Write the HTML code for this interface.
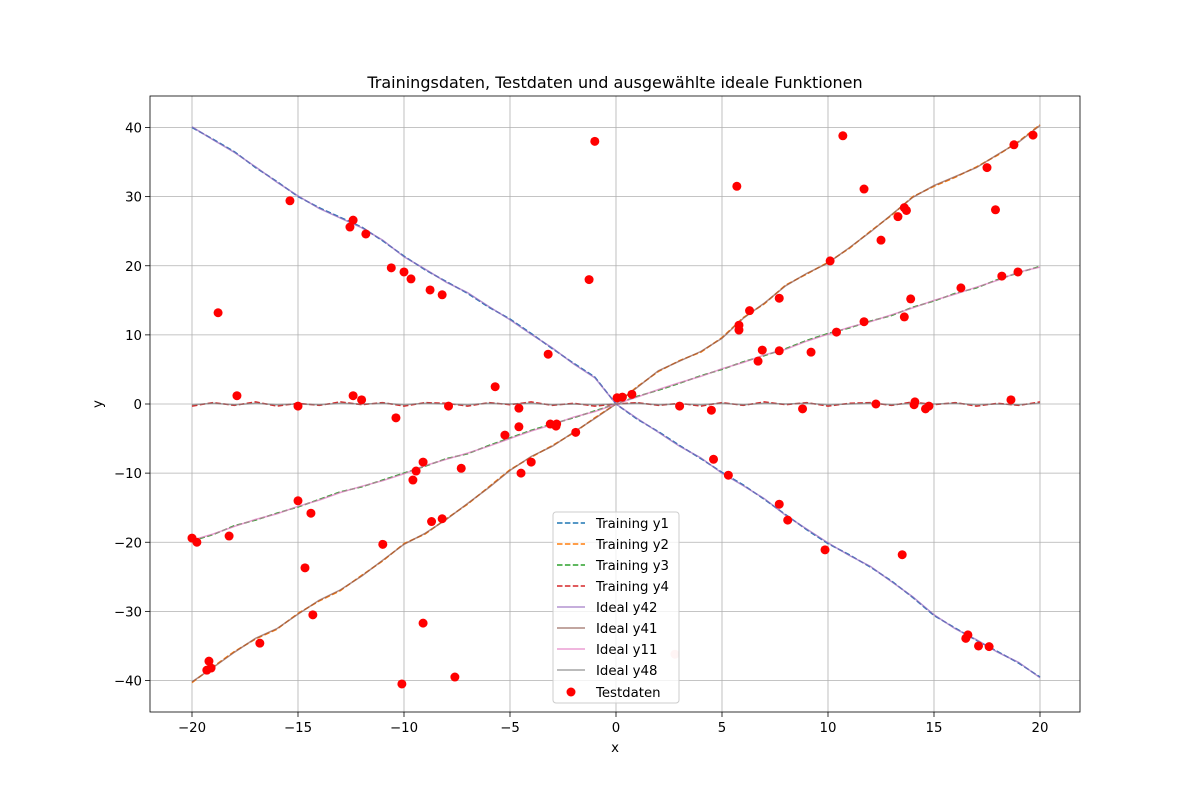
<!DOCTYPE html>
<html><head><meta charset="utf-8"><style>
body{margin:0;background:#fff;}
svg{display:block;font-family:"DejaVu Sans","Liberation Sans",sans-serif;}
</style></head><body>
<svg id="chart" width="1200" height="800" viewBox="0 0 1200 800" xmlns="http://www.w3.org/2000/svg">
<rect x="0" y="0" width="1200" height="800" fill="#fff"/>
<text x="615" y="88" text-anchor="middle" font-size="16">Trainingsdaten, Testdaten und ausgewählte ideale Funktionen</text>
<g id="grid"></g><g id="series"></g><g id="points"></g>
<rect x="150" y="96" width="930" height="616" fill="none" stroke="#000" stroke-width="0.8"/>
<g id="ticks"></g>
<text x="615" y="752" text-anchor="middle" font-size="13.3">x</text>
<text x="102" y="404" text-anchor="middle" font-size="13.3" transform="rotate(-90 102 404)">y</text>
<g id="legend"></g>
</svg>
<script>
const xs=[-20,-19,-18,-17,-16,-15,-14,-13,-12,-11,-10,-9,-8,-7,-6,-5,-4,-3,-2,-1,0,1,2,3,4,5,6,7,8,9,10,11,12,13,14,15,16,17,18,19,20];
const trainY1=[40,38.3,36.5,34.2,32.2,30,28.4,27,25.6,23.6,21.4,19.4,17.7,16,14,12.3,10.2,8,5.9,3.9,0,-2.2,-4,-6,-7.9,-9.9,-11.7,-13.8,-16,-18.2,-20.2,-21.8,-23.6,-25.6,-28,-30.6,-32.4,-34.2,-35.8,-37.5,-39.5];
const trainY2=[-40.3,-38,-35.8,-34,-32.6,-30.3,-28.5,-27,-24.8,-22.7,-20.2,-18.8,-16.6,-14.5,-12,-9.5,-7.7,-6,-4.2,-2,0,2.5,4.7,6.3,7.5,9.6,12.5,14.5,17.2,18.8,20.5,22.5,25,27.3,30,31.5,32.8,34.3,36,38,40.4];
const trainY3=[-19.8,-18.9,-17.6,-16.8,-15.8,-14.9,-13.8,-12.7,-12,-11,-10,-9,-7.9,-7.2,-6,-4.9,-3.8,-2.9,-2,-1,0,1.1,2,3,4.1,5,6.1,7,8,9.2,10.2,11,12,12.8,14,14.9,16,16.8,18,19,19.9];
const trainY4=[-0.3,0.2,-0.2,0.3,-0.3,0.1,-0.2,0.3,-0.1,0.2,-0.3,0.2,0.1,-0.3,0.2,-0.1,0.3,-0.2,0.1,-0.3,0,0.2,-0.2,0.1,-0.3,0.2,-0.2,0.3,-0.1,0.2,-0.3,0.1,0.2,-0.2,0.3,-0.1,0.2,-0.3,0.1,-0.2,0.3];
const idealY42=[40.1,38.2,36.4,34.3,32.1,30.1,28.3,26.9,25.5,23.7,21.3,19.5,17.6,16.1,14.1,12.2,10.1,8.1,5.8,3.8,0,-2.1,-4.1,-6.1,-7.8,-10,-11.8,-13.7,-16.1,-18.1,-20.1,-21.9,-23.5,-25.7,-27.9,-30.5,-32.5,-34.1,-35.9,-37.4,-39.6];
const idealY41=[-40.2,-38.1,-35.9,-33.9,-32.5,-30.4,-28.4,-26.9,-24.9,-22.6,-20.3,-18.7,-16.7,-14.4,-12.1,-9.6,-7.6,-6.1,-4.1,-2.1,0,2.4,4.8,6.2,7.6,9.5,12.4,14.6,17.1,18.9,20.4,22.6,24.9,27.4,29.9,31.6,32.9,34.2,36.1,37.9,40.3];
const idealY11=[-19.7,-18.8,-17.7,-16.7,-15.9,-14.8,-13.9,-12.8,-11.9,-11.1,-10.1,-8.9,-8,-7.1,-6.1,-5,-3.9,-3,-1.9,-1.1,0,1,2.1,3.1,4,5.1,6,7.1,7.9,9.1,10.1,11.1,11.9,12.9,13.9,15,15.9,16.9,17.9,19.1,19.8];
const idealY48=[-0.1,0.1,-0.1,0.1,-0.1,0,-0.1,0.1,0,0.1,-0.1,0.1,0,-0.1,0.1,0,0.1,-0.1,0,-0.1,0,0.1,-0.1,0,-0.1,0.1,-0.1,0.1,0,0.1,-0.1,0,0.1,-0.1,0.1,0,0.1,-0.1,0,-0.1,0.1];
const testX=[-20,-19.77,-18.77,-18.25,-17.88,-16.8,-19.2,-19.3,-19.1,-15.38,-15,-15,-14.67,-14.39,-14.3,-12.55,-12.4,-11.8,-12.4,-12,-11,-10.6,-10.38,-10,-9.67,-9.58,-9.43,-9.1,-9.1,-10.1,-8.77,-8.7,-8.2,-8.2,-7.9,-7.6,-7.3,-5.7,-5.24,-4.58,-4.58,-4.48,-4,-3.2,-3.1,-2.83,-2.8,-1.9,-1.27,-1,0.05,0.3,0.75,3.0,4.5,4.6,5.3,5.7,5.8,5.8,6.3,6.7,6.9,7.7,7.7,7.7,8.1,8.8,9.2,9.86,10.1,10.4,10.7,11.7,11.7,12.26,12.5,13.3,13.5,13.6,13.7,13.6,13.9,14.06,14.1,14.6,14.76,16.27,16.5,16.6,17.1,17.6,17.5,17.9,18.2,18.63,18.77,18.96,19.67];
const testY=[-19.4,-20,13.2,-19.1,1.2,-34.6,-37.2,-38.5,-38.2,29.4,-0.3,-14,-23.7,-15.8,-30.5,25.6,26.6,24.6,1.2,0.6,-20.3,19.7,-2,19.1,18.1,-11,-9.7,-8.4,-31.7,-40.5,16.5,-17,15.8,-16.6,-0.3,-39.5,-9.3,2.5,-4.5,-0.6,-3.3,-10,-8.4,7.2,-2.9,-3.2,-2.9,-4.1,18,38,0.9,1,1.4,-0.3,-0.9,-8,-10.3,31.5,11.4,10.7,13.5,6.2,7.8,7.7,15.3,-14.5,-16.8,-0.7,7.5,-21.1,20.7,10.4,38.8,31.1,11.9,0,23.7,27.1,-21.8,28.4,28,12.6,15.2,-0.1,0.3,-0.7,-0.3,16.8,-33.9,-33.4,-35,-35.1,34.2,28.1,18.5,0.6,37.5,19.1,38.9];
const fadedX=[2.78];
const fadedY=[-36.2];
const xTicks=[-20,-15,-10,-5,0,5,10,15,20];
const yTicks=[-40,-30,-20,-10,0,10,20,30,40];

const NS="http://www.w3.org/2000/svg";
const X=v=>616+v*21.2, Y=v=>404-v*6.9125;
function mk(tag,attrs,parent){const e=document.createElementNS(NS,tag);for(const k in attrs)e.setAttribute(k,attrs[k]);parent.appendChild(e);return e;}
const grid=document.getElementById('grid'),ticks=document.getElementById('ticks'),series=document.getElementById('series'),pts=document.getElementById('points'),leg=document.getElementById('legend');
xTicks.forEach(t=>{
  const g=mk('line',{x1:X(t),x2:X(t),y1:96,y2:712,stroke:'#b0b0b0','stroke-width':0.8},grid);
  
  const tk=mk('line',{x1:X(t),x2:X(t),y1:712,y2:717,stroke:'#000','stroke-width':0.8},ticks);
  
  const tx=mk('text',{x:X(t),y:732,'text-anchor':'middle','font-size':13.3},ticks);tx.textContent=t<0?'−'+(-t):t;
  
});
yTicks.forEach(t=>{
  const g=mk('line',{x1:150,x2:1080,y1:Y(t),y2:Y(t),stroke:'#b0b0b0','stroke-width':0.8},grid);
  
  const tk=mk('line',{x1:145,x2:150,y1:Y(t),y2:Y(t),stroke:'#000','stroke-width':0.8},ticks);
  
  const tx=mk('text',{x:142,y:Y(t)+5,'text-anchor':'end','font-size':13.3},ticks);tx.textContent=t<0?'−'+(-t):t;
  
});
const defs=[
 ['Training y1',trainY1,'#1f77b4',true],['Training y2',trainY2,'#ff7f0e',true],['Training y3',trainY3,'#2ca02c',true],['Training y4',trainY4,'#d62728',true],
 ['Ideal y42',idealY42,'#9467bd',false],['Ideal y41',idealY41,'#8c564b',false],['Ideal y11',idealY11,'#e377c2',false],['Ideal y48',idealY48,'#7f7f7f',false]];
defs.forEach(([name,ys,c,dash])=>{
  const d=ys.map((v,i)=>(i?'L':'M')+X(xs[i]).toFixed(1)+' '+Y(v).toFixed(1)).join(' ');
  const p=mk('path',{d:d,fill:'none',stroke:c,'stroke-width':1.5,'stroke-dasharray':dash?'5.5 2.4':'none',opacity:dash?1:0.7},series);
  
});
testX.forEach((v,i)=>{
  const c=mk('circle',{cx:X(v),cy:Y(testY[i]),r:4.5,fill:'#ff0000'},pts);
  
});
fadedX.forEach((v,i)=>{
  const c=mk('circle',{cx:X(v),cy:Y(fadedY[i]),r:4.5,fill:'#ff0000','fill-opacity':0.2},pts);
  
});
const box=mk('rect',{x:553,y:512,width:126,height:191,rx:3,fill:'#fff','fill-opacity':0.8,stroke:'#ccc','stroke-width':1},leg);

defs.forEach(([name,ys,c,dash],i)=>{
  const y=523+i*21;
  const l=mk('line',{x1:557,x2:585,y1:y,y2:y,stroke:c,'stroke-width':1.5,'stroke-dasharray':dash?'5.5 2.4':'none',opacity:dash?1:0.7},leg);
  
  const t=mk('text',{x:596,y:y+5,'font-size':13.3},leg);t.textContent=name;
  
});
const lc=mk('circle',{cx:571,cy:692,r:4.5,fill:'#ff0000'},leg);

const lt=mk('text',{x:596,y:697,'font-size':13.3},leg);lt.textContent='Testdaten';

</script>
</body></html>
